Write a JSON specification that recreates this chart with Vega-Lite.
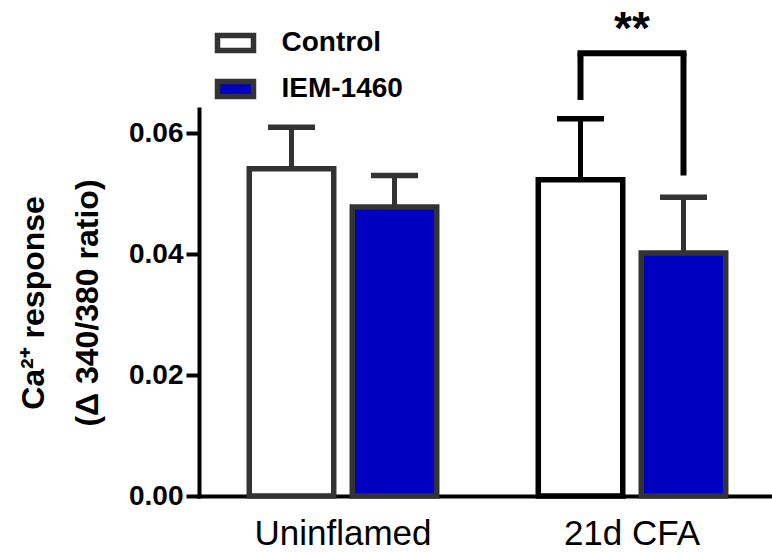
{
  "$schema": "https://vega.github.io/schema/vega-lite/v6.json",
  "width": 572,
  "height": 387,
  "autosize": {"type": "none"},
  "padding": {"left": 199, "top": 109, "right": 1, "bottom": 57},
  "background": "white",
  "config": {"view": {"stroke": null}, "font": "Liberation Sans"},
  "datasets": {
    "bars": [
      {"group": "Uninflamed", "treatment": "Control", "mean": 0.0541, "upper": 0.0610},
      {"group": "Uninflamed", "treatment": "IEM-1460", "mean": 0.0478, "upper": 0.0530},
      {"group": "21d CFA", "treatment": "Control", "mean": 0.0523, "upper": 0.0624},
      {"group": "21d CFA", "treatment": "IEM-1460", "mean": 0.0402, "upper": 0.0494}
    ],
    "legs": [
      {"group": "21d CFA", "treatment": "Control", "low": 0.0655, "high": 0.0732},
      {"group": "21d CFA", "treatment": "IEM-1460", "low": 0.0530, "high": 0.0732}
    ],
    "top": [
      {"group": "21d CFA", "level": 0.0732, "labelLevel": 0.0748, "label": "**"}
    ]
  },
  "encoding": {
    "x": {
      "field": "group",
      "type": "nominal",
      "sort": ["Uninflamed", "21d CFA"],
      "scale": {"range": [0, 577], "paddingInner": 0.3, "paddingOuter": 0.1483},
      "axis": {
        "title": null,
        "ticks": false,
        "tickSize": 0,
        "labelAngle": 0,
        "labelFontSize": 35,
        "labelColor": "black",
        "labelBaseline": "alphabetic",
        "labelPadding": 48,
        "domainColor": "black",
        "domainWidth": 4,
        "domainCap": "square"
      }
    }
  },
  "layer": [
    {
      "data": {"name": "bars"},
      "mark": {"type": "bar", "strokeWidth": 5.5},
      "encoding": {
        "xOffset": {"field": "treatment", "type": "nominal", "sort": ["Control", "IEM-1460"], "scale": {"paddingInner": 0.18, "paddingOuter": 0.072}},
        "y": {
          "field": "mean",
          "type": "quantitative",
          "scale": {"domain": [0, 0.064], "nice": false},
          "axis": {
            "title": ["Ca²⁺ response", "(Δ 340/380 ratio)"],
            "values": [0, 0.02, 0.04, 0.06],
            "format": ".2f",
            "grid": false,
            "domainColor": "black",
            "domainWidth": 4,
            "domainCap": "square",
            "tickColor": "black",
            "tickWidth": 4,
            "tickSize": 13,
            "labelFontSize": 28,
            "labelFontWeight": "bold",
            "labelColor": "black",
            "labelPadding": 3,
            "titleFontSize": 32,
            "titleFontWeight": "bold",
            "titleColor": "black",
            "titleLineHeight": 54,
            "titleAngle": -90,
            "titleX": -156,
            "titleY": 193.5,
            "titleBaseline": "alphabetic",
            "titleAlign": "center"
          }
        },
        "color": {
          "field": "treatment",
          "type": "nominal",
          "sort": ["Control", "IEM-1460"],
          "scale": {"domain": ["Control", "IEM-1460"], "range": ["white", "#0000C0"]},
          "legend": {
            "orient": "none",
            "legendX": 15.5,
            "legendY": -87,
            "title": null,
            "padding": 0,
            "symbolType": "M-1,-0.42H1V0.42H-1Z",
            "symbolSize": 1296,
            "symbolStrokeWidth": 5.5,
            "symbolStrokeColor": "#333333",
            "symbolOpacity": 1,
            "labelFontSize": 28,
            "labelFontWeight": "bold",
            "labelColor": "black",
            "labelOffset": 25,
            "rowPadding": 6
          }
        },
        "stroke": {
          "condition": {"test": "datum.group === '21d CFA' && datum.treatment === 'Control'", "value": "black"},
          "value": "#333333"
        }
      }
    },
    {
      "data": {"name": "bars"},
      "mark": {"type": "rule", "strokeWidth": 5},
      "encoding": {
        "xOffset": {"field": "treatment", "type": "nominal", "sort": ["Control", "IEM-1460"], "scale": {"paddingInner": 0.18, "paddingOuter": 0.072}},
        "y": {"field": "mean", "type": "quantitative", "scale": {"domain": [0, 0.064], "nice": false}},
        "y2": {"field": "upper"},
        "color": {
          "condition": {"test": "datum.group === '21d CFA' && datum.treatment === 'Control'", "value": "black"},
          "value": "#333333"
        }
      }
    },
    {
      "data": {"name": "bars"},
      "mark": {"type": "tick", "size": 47, "thickness": 5.5, "opacity": 1},
      "encoding": {
        "xOffset": {"field": "treatment", "type": "nominal", "sort": ["Control", "IEM-1460"], "scale": {"paddingInner": 0.18, "paddingOuter": 0.072}},
        "y": {"field": "upper", "type": "quantitative", "scale": {"domain": [0, 0.064], "nice": false}},
        "color": {
          "condition": {"test": "datum.group === '21d CFA' && datum.treatment === 'Control'", "value": "black"},
          "value": "#333333"
        }
      }
    },
    {
      "data": {"name": "legs"},
      "mark": {"type": "rule", "strokeWidth": 6, "color": "black"},
      "encoding": {
        "xOffset": {"field": "treatment", "type": "nominal", "sort": ["Control", "IEM-1460"], "scale": {"paddingInner": 0.18, "paddingOuter": 0.072}},
        "y": {"field": "low", "type": "quantitative", "scale": {"domain": [0, 0.064], "nice": false}},
        "y2": {"field": "high"}
      }
    },
    {
      "data": {"name": "top"},
      "mark": {"type": "tick", "size": 109, "thickness": 6, "color": "black", "opacity": 1},
      "encoding": {
        "y": {"field": "level", "type": "quantitative", "scale": {"domain": [0, 0.064], "nice": false}}
      }
    },
    {
      "data": {"name": "top"},
      "mark": {"type": "text", "fontSize": 46, "fontWeight": "bold", "baseline": "alphabetic", "align": "center", "color": "black"},
      "encoding": {
        "y": {"field": "labelLevel", "type": "quantitative", "scale": {"domain": [0, 0.064], "nice": false}},
        "text": {"field": "label"}
      }
    }
  ]
}
